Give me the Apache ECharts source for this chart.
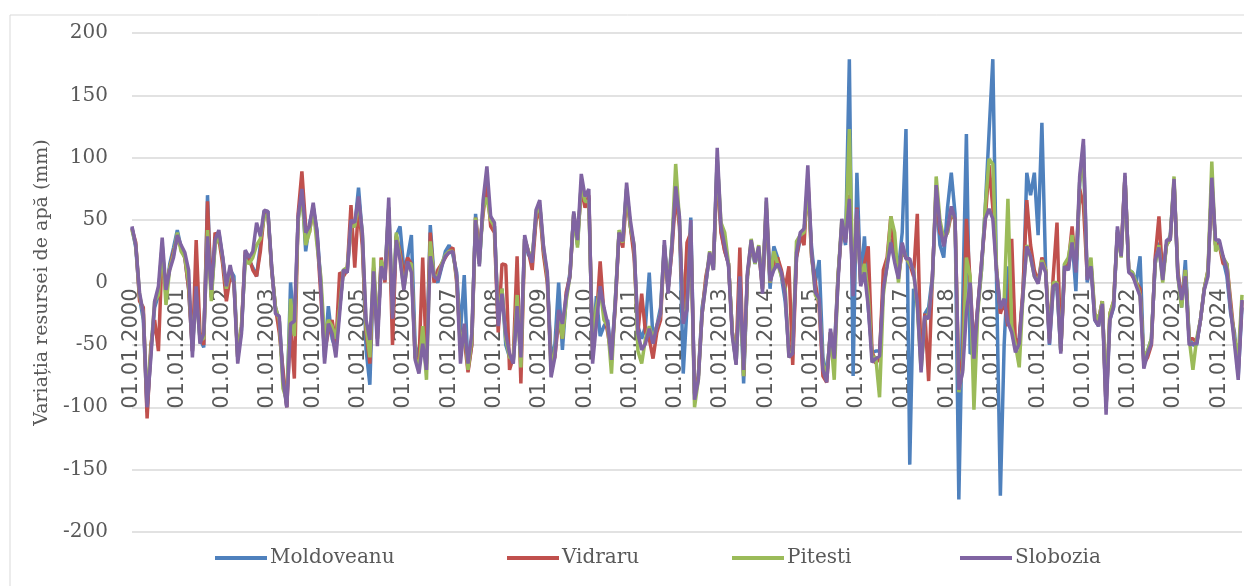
<!DOCTYPE html>
<html>
<head>
<meta charset="utf-8">
<script src="https://cdn.jsdelivr.net/npm/echarts@6.0.0/dist/echarts.min.js"></script>
<style>
  html, body { margin: 0; padding: 0; background: #fff; }
  #chart { width: 1244px; height: 586px; }
</style>
</head>
<body>
<div id="chart"></div>
<script>
// monthly values, 01.2000 - 07.2024 (one row per year)
var moldoveanu = [
  44, 28, -12, -30, -104, -55, -20, -10, 30, -10, 15, 28,
  42, 28, 20, -5, -55, 0, -45, -52, 70, -10, 30, 40,
  20, -5, 10, 5, -60, -38, 22, 18, 12, 5, 30, 57,
  57, 10, -20, -30, -75, -100, 0, -40, 50, 78, 25, 47,
  60, 42, 0, -60, -19, -45, -54, -20, 10, 8, 45, 45,
  76, 38, -54, -82, 10, -40, 15, 5, 60, -30, 38, 45,
  10, 20, 38, -50, -60, -45, -60, 46, 5, 0, 12, 25,
  30, 22, 8, -40, 6, -70, -50, 55, 15, 62, 75, 52,
  45, -30, -5, -50, -60, -62, -20, -55, 35, 22, 20, 50,
  62, 25, 5, -60, -50, 0, -54, -12, 8, 55, 30, 80,
  65, 68, -55, -11, -43, -35, -30, -60, -15, 40, 35, 75,
  45, 25, -35, -45, -35, 8, -45, -35, -20, 30, -5, 32,
  75, 50, -73, -20, 52, -90, -75, -20, 0, 22, 12, 100,
  42, 25, 15, -40, -65, 0, -81, 5, 30, 15, 25, 0,
  60, -5, 29, 20, 5, -15, -55, -50, 20, 35, 40, 80,
  28, 0, 18, -60, -75, -40, -55, 5, 45, 30, 179, -75,
  88, 0, 37, -20, -56, -55, -55, -5, 15, 35, 20, 10,
  40, 123, -146, -5, -15, -65, -25, -20, 5, 70, 30, 20,
  60, 88, 55, -174, -20, 119, -57, -55, -20, 10, 60, 120,
  179, 0, -171, -50, 13, -35, -50, -45, -10, 88, 70, 88,
  38, 128, 10, -50, -5, -5, -55, 15, 10, 35, -7, 80,
  110, 0, 15, -30, -35, -15, -100, -30, -20, 42, 22, 85,
  10, 8, 0, 21, -65, -55, -45, 15, 32, 5, 30, 38,
  80, 8, -20, 18, -45, -50, -50, -30, -5, 8, 80, 30,
  32, 18, 5, -25, -40, -75, -20
];
var vidraru = [
  43, 32, -15, -20, -109, -50, -30, -55, 25, -5, 12, 25,
  35, 28, 20, -5, -55, 34, -40, -50, 65, -12, 40, 35,
  15, -15, 5, 0, -60, -35, 25, 20, 10, 5, 25, 55,
  55, 10, -20, -40, -70, -100, -35, -77, 55, 89, 45, 40,
  60, 38, -10, -55, -40, -30, -50, 8, 5, 10, 62, 12,
  62, 30, -40, -65, 12, -45, 20, 0, 58, -50, 37, 25,
  5, 20, 15, -60, -65, 20, -65, 40, 0, 10, 15, 20,
  25, 28, 0, -50, -45, -72, -50, 52, 25, 55, 80, 45,
  40, -40, 15, 14, -70, -60, 21, -81, 35, 25, 10, 50,
  58, 22, 0, -65, -60, -30, -45, -8, 5, 55, 35, 75,
  60, 70, -55, -30, 17, -25, -40, -60, -20, 40, 28, 70,
  45, 20, -40, -9, -40, -45, -61, -40, -30, 28, -5, 25,
  70, 45, -30, 32, 40, -89, -75, -25, 5, 20, 15, 90,
  40, 25, 15, -40, -60, 28, -75, 5, 32, 18, 25, -5,
  60, 0, 15, 20, 10, -5, 13, -66, 20, 38, 30, 85,
  20, 0, -20, -75, -80, -40, -60, 5, 45, 35, 70, -5,
  60, 0, 15, 29, -55, -65, -60, 10, 20, 53, 20, 5,
  25, 20, 15, 5, 55, -65, -25, -79, 5, 75, 40, 35,
  40, 55, 50, -80, -60, 51, 0, -55, -20, 15, 50, 94,
  60, 10, -25, -15, -35, 35, -50, -45, -5, 66, 30, 10,
  0, 20, 10, -45, 5, 48, -55, 10, 15, 45, 10, 75,
  62, 5, 15, -25, -30, -15, -100, -25, -15, 40, 25, 85,
  10, 5, 0, -5, -65, -60, -50, 20, 53, 5, 30, 35,
  80, 10, -15, 10, -45, -45, -48, -30, -5, 10, 80, 30,
  30, 15, 15, -15, -45, -70, -15
];
var pitesti = [
  42, 30, -10, -25, -95, -55, -15, -10, 30, -18, 12, 22,
  40, 25, 20, 0, -50, -10, -45, -45, 42, -15, 30, 38,
  20, -5, 10, 0, -60, -35, 18, 15, 20, 30, 35, 52,
  55, 12, -20, -30, -85, -95, -13, -43, 50, 70, 30, 40,
  60, 30, 5, -45, -30, -35, -45, -20, 10, 12, 45, 45,
  65, 40, -35, -60, 20, -45, 18, 5, 60, -25, 40, 20,
  -5, 15, 15, -60, -70, -35, -78, 33, 5, 5, 15, 22,
  25, 25, 3, -55, -35, -70, -45, 52, 15, 60, 68, 50,
  45, -30, -5, -45, -60, -62, -10, -68, 35, 25, 20, 55,
  62, 28, 5, -70, -55, -25, -45, -15, 5, 55, 28, 80,
  65, 65, -55, -20, -5, -30, -35, -73, -15, 42, 32, 75,
  45, 30, -55, -65, -45, -35, -45, -35, -25, 30, -5, 30,
  95, 50, -30, -20, 45, -100, -78, -25, 0, 25, 10, 100,
  48, 40, 15, -40, -65, 0, -75, 5, 35, 15, 30, -5,
  65, 0, 25, 15, 5, -5, -60, -55, 33, 38, 40, 80,
  22, -10, -15, -65, -75, -40, -78, 5, 50, 35, 123, -5,
  55, 0, 15, -10, -60, -60, -92, -10, 15, 53, 40, 0,
  30, 20, 15, 10, -20, -70, -30, -25, 0, 85, 50, 35,
  40, 60, 50, -88, -70, 20, 5, -102, -25, 10, 60, 99,
  95, 10, -20, -15, 67, -35, -50, -68, -10, 30, 20, 5,
  0, 18, 10, -45, 0, 0, -55, 15, 20, 38, 10, 80,
  100, 5, 20, -25, -30, -15, -95, -25, -15, 40, 20, 85,
  10, 8, 0, -10, -60, -55, -45, 15, 30, 0, 30, 35,
  85, 5, -20, 10, -45, -70, -45, -30, -5, 10, 97, 25,
  30, 20, 15, -20, -45, -60, -10
];
var slobozia = [
  45, 30, -8, -25, -100, -60, -15, -3, 36, -6, 10, 20,
  38, 30, 24, 10, -60, -3, -49, -41, 37, -6, 34, 42,
  21, -3, 14, -1, -65, -41, 26, 20, 25, 48, 37, 58,
  57, 13, -25, -27, -78, -100, -33, -31, 53, 75, 40, 45,
  64, 40, -3, -65, -33, -41, -60, -25, 10, 8, 50, 48,
  69, 40, -30, -46, 9, -51, 13, 2, 68, -29, 34, 18,
  -6, 17, 8, -62, -73, -49, -70, 21, 5, 2, 13, 21,
  24, 25, 5, -65, -33, -65, -41, 50, 13, 66, 93, 53,
  48, -35, -9, -41, -57, -65, -19, -60, 38, 24, 16, 58,
  66, 29, 8, -76, -60, -22, -33, -11, 5, 57, 34, 87,
  69, 75, -65, -33, -3, -20, -33, -62, -17, 40, 33, 80,
  50, 29, -41, -54, -49, -37, -49, -35, -25, 34, -9, 29,
  77, 53, -33, -22, 50, -94, -78, -25, -1, 24, 10, 108,
  45, 29, 13, -43, -66, 5, -70, 8, 34, 16, 29, -9,
  68, 1, 10, 15, 8, -9, -60, -57, 24, 40, 43, 94,
  24, -8, -13, -70, -80, -37, -61, 0, 51, 32, 67, -11,
  59, -3, 8, -19, -64, -61, -59, -5, 13, 32, 16, 3,
  32, 19, 19, 8, -16, -72, -27, -29, 3, 78, 45, 29,
  43, 61, 51, -86, -72, -24, 0, -61, -21, 16, 51, 59,
  51, 8, -21, -13, -32, -40, -56, -49, -9, 29, 21, 5,
  -1, 16, 8, -49, -3, -1, -57, 13, 10, 32, 8, 85,
  115, 2, 13, -30, -35, -17, -106, -30, -19, 45, 21, 88,
  8, 6, -3, -11, -69, -57, -49, 18, 28, 2, 34, 34,
  83, 5, -14, 5, -50, -49, -49, -30, -6, 5, 84, 34,
  34, 21, 10, -22, -49, -78, -14
];
var seriesNames = ["Moldoveanu", "Vidraru", "Pitesti", "Slobozia"];
var seriesColors = ["#4f81bd", "#c0504d", "#9bbb59", "#8064a2"];
var startYear = 2000;

var dates = [];
for (var i = 0; i < slobozia.length; i++) {
  var m = (i % 12) + 1;
  dates.push("01." + (m < 10 ? "0" + m : m) + "." + (startYear + Math.floor(i / 12)));
}

var myChart = echarts.init(document.getElementById("chart"));
var allData = [moldoveanu, vidraru, pitesti, slobozia];
var legendLeft = [210, 502, 727, 955];

myChart.setOption({
  animation: false,
  color: seriesColors,
  grid: { left: 132, right: 2, top: 33, bottom: 54, containLabel: false, outerBoundsMode: "none" },
  graphic: [{
    type: "rect",
    shape: { x: 10, y: 15, width: 1300, height: 620 },
    style: { fill: "none", stroke: "#d9d9d9", lineWidth: 1 },
    silent: true
  }],
  legend: seriesNames.map(function(n, k) {
    return {
      data: [n],
      left: legendLeft[k],
      top: 543,
      icon: "rect",
      itemWidth: 52,
      itemHeight: 4,
      itemGap: 0,
      textStyle: { fontFamily: "DejaVu Serif", fontSize: 20, color: "#595959", padding: [0, 0, 0, -2] }
    };
  }),
  xAxis: {
    type: "category",
    data: dates,
    boundaryGap: false,
    offset: -249.5,
    axisLine: { onZero: false, lineStyle: { color: "#d9d9d9", width: 1 } },
    axisTick: { show: false },
    axisLabel: {
      rotate: 90,
      interval: function(idx) { return idx % 12 === 0; },
      margin: 6,
      fontFamily: "DejaVu Sans",
      fontSize: 21,
      color: "#595959"
    },
    splitLine: { show: false }
  },
  yAxis: {
    type: "value",
    min: -200,
    max: 200,
    interval: 50,
    name: "Variația resursei de apă (mm)",
    nameLocation: "middle",
    nameGap: 80,
    nameTextStyle: { fontFamily: "DejaVu Serif", fontSize: 19, color: "#595959" },
    axisLine: { show: false },
    axisTick: { show: false },
    axisLabel: { fontFamily: "DejaVu Serif", fontSize: 20, color: "#595959", margin: 24 },
    splitLine: { lineStyle: { color: "#d9d9d9", width: 1.5 } }
  },
  series: allData.map(function(d, k) {
    return {
      name: seriesNames[k],
      type: "line",
      data: d,
      showSymbol: false,
      lineStyle: { width: 3.5, color: seriesColors[k] },
      z: 2 + k
    };
  })
});
</script>
</body>
</html>
